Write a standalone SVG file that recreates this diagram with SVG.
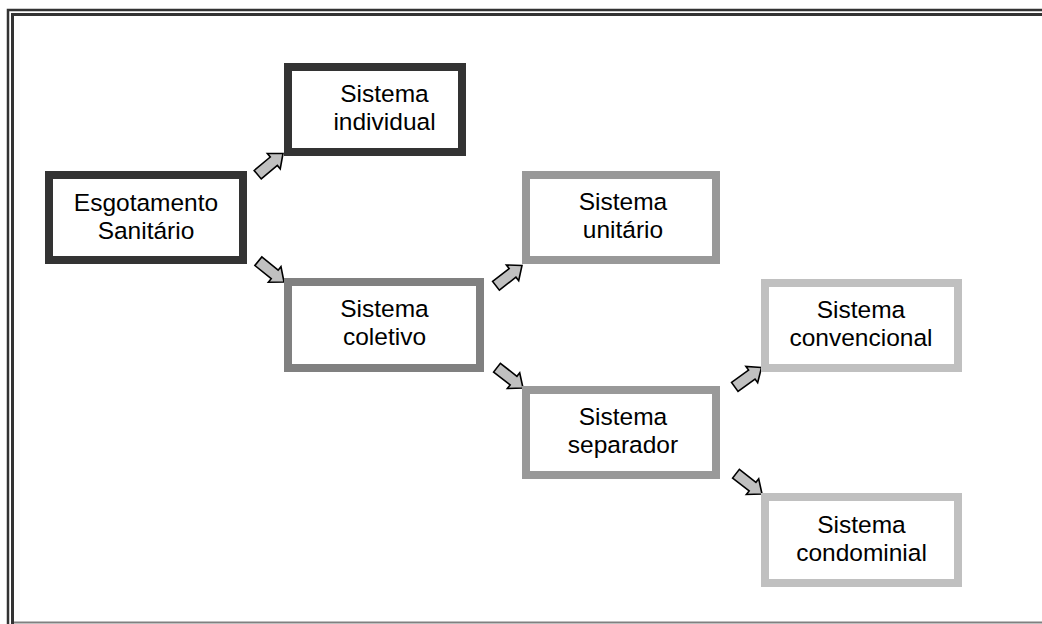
<svg xmlns="http://www.w3.org/2000/svg" width="1042" height="624" viewBox="0 0 1042 624">
<style>
.box{fill:#fff;stroke-width:8}
.t{font-family:"Liberation Sans",Arial,sans-serif;font-size:24.5px;fill:#000;text-anchor:middle}
.arr{fill:#c0c0c0;stroke:#000;stroke-width:1.6;stroke-linejoin:miter}
</style>
<defs>
<path id="arrow" d="M0,0 L-12,-10 L-12,-5.5 L-33,-5.5 L-33,5.5 L-12,5.5 L-12,10 Z"/>
</defs>
<rect width="1042" height="624" fill="#fff"/>
<g id="frame" fill="none">
<path d="M8,624 V10 H1042" stroke="#333" stroke-width="2.5"/>
<path d="M12.5,624 V14.5 H1042" stroke="#333" stroke-width="3"/>
<line x1="14" y1="622.5" x2="1042" y2="622.5" stroke="#808080" stroke-width="2"/>
</g>
<g id="connectors">
<use href="#arrow" class="arr" transform="translate(283,153.5) rotate(-40)"/>
<use href="#arrow" class="arr" transform="translate(284,282) rotate(39)"/>
<use href="#arrow" class="arr" transform="translate(522,265.5) rotate(-38)"/>
<use href="#arrow" class="arr" transform="translate(523,388) rotate(38)"/>
<use href="#arrow" class="arr" transform="translate(761.5,367.5) rotate(-36)"/>
<use href="#arrow" class="arr" transform="translate(762,494) rotate(38)"/>
</g>
<g id="esgotamento">
<rect class="box" x="49" y="175" width="194" height="85" stroke="#333"/>
<text class="t" x="146" y="211">Esgotamento</text>
<text class="t" x="146" y="239">Sanitário</text>
</g>
<g id="individual">
<rect class="box" x="288" y="67" width="174" height="85" stroke="#333"/>
<text class="t" x="384.5" y="102">Sistema</text>
<text class="t" x="384.5" y="130">individual</text>
</g>
<g id="coletivo">
<rect class="box" x="288" y="282" width="192" height="86" stroke="#808080"/>
<text class="t" x="384.5" y="317">Sistema</text>
<text class="t" x="384.5" y="345">coletivo</text>
</g>
<g id="unitario">
<rect class="box" x="526" y="175" width="190" height="85" stroke="#999"/>
<text class="t" x="623" y="210">Sistema</text>
<text class="t" x="623" y="238">unitário</text>
</g>
<g id="separador">
<rect class="box" x="526" y="390" width="190" height="85" stroke="#999"/>
<text class="t" x="623" y="425">Sistema</text>
<text class="t" x="623" y="453">separador</text>
</g>
<g id="convencional">
<rect class="box" x="765" y="283" width="193" height="85" stroke="#c0c0c0"/>
<text class="t" x="861" y="318">Sistema</text>
<text class="t" x="861" y="346">convencional</text>
</g>
<g id="condominial">
<rect class="box" x="765" y="497" width="193" height="86" stroke="#c0c0c0"/>
<text class="t" x="861.5" y="533">Sistema</text>
<text class="t" x="861.5" y="561">condominial</text>
</g>
</svg>
